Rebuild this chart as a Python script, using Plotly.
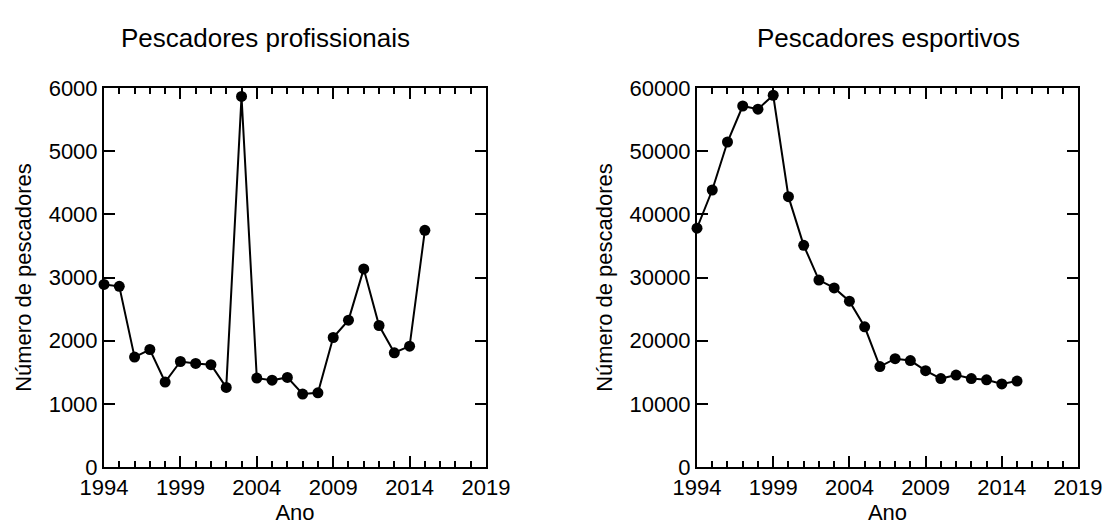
import plotly.graph_objects as go

anos = list(range(1994, 2016))
profissionais = [2890, 2860, 1740, 1860, 1345, 1670, 1640, 1620, 1260, 5866, 1407, 1375,
                 1418, 1155, 1175, 2050, 2325, 3136, 2240, 1808, 1913, 3747]
esportivos = [37800, 43850, 51450, 57150, 56650, 58850, 42800, 35100, 29600, 28350, 26250, 22200,
              15900, 17150, 16850, 15250, 14000, 14550, 14000, 13800, 13150, 13600]
titulos = ["Pescadores profissionais", "Pescadores esportivos"]
x_titulo = "Ano"
y_titulo = "Número de pescadores"

FONT = "Liberation Sans, Arial, sans-serif"
TICK = 22
AXT = 22
fig = go.Figure()

fig.add_trace(go.Scatter(x=anos, y=profissionais, mode="lines+markers",
                         line=dict(color="black", width=2),
                         marker=dict(color="black", size=11),
                         cliponaxis=False, xaxis="x", yaxis="y", showlegend=False))
fig.add_trace(go.Scatter(x=anos, y=esportivos, mode="lines+markers",
                         line=dict(color="black", width=2),
                         marker=dict(color="black", size=11),
                         cliponaxis=False, xaxis="x2", yaxis="y2", showlegend=False))

def xax(domain, anchor):
    return dict(domain=domain, anchor=anchor, range=[1994, 2019], dtick=5, tick0=1994,
                ticks="inside", ticklen=11, tickwidth=2, tickcolor="black",
                showline=True, linecolor="black", linewidth=2, mirror="ticks",
                showgrid=False, zeroline=False, automargin=False,
                minor=dict(ticks="inside", ticklen=6, tickwidth=2, dtick=1, tick0=1994, tickcolor="black", showgrid=False),
                tickfont=dict(size=TICK, color="black", family=FONT),
                title=dict(text=x_titulo, font=dict(size=AXT, color="black", family=FONT), standoff=5))

def yax(domain, anchor, rng, dt):
    return dict(domain=domain, anchor=anchor, range=rng, dtick=dt, tickformat="d",
                ticks="inside", ticklen=11, tickwidth=2, tickcolor="black",
                showline=True, linecolor="black", linewidth=2, mirror="ticks",
                showgrid=False, zeroline=False, automargin=False,
                tickfont=dict(size=TICK, color="black", family=FONT),
                title=dict(text=y_titulo, font=dict(size=AXT, color="black", family=FONT), standoff=11))

ydom = [61 / 528, 440 / 528]
fig.update_layout(
    width=1112, height=528, margin=dict(l=0, r=0, t=0, b=0),
    paper_bgcolor="white", plot_bgcolor="white",
    font=dict(family=FONT, color="black"),
    xaxis=xax([104 / 1112, 486 / 1112], "y"),
    yaxis=yax(ydom, "x", [0, 6000], 1000),
    xaxis2=xax([697 / 1112, 1078 / 1112], "y2"),
    yaxis2=yax(ydom, "x2", [0, 60000], 10000),
    annotations=[
        dict(text=titulos[0], x=265 / 1112, y=1 - 38 / 528, xref="paper", yref="paper",
             showarrow=False, font=dict(size=26, color="black", family=FONT), xanchor="center", yanchor="middle"),
        dict(text=titulos[1], x=888 / 1112, y=1 - 38 / 528, xref="paper", yref="paper",
             showarrow=False, font=dict(size=26, color="black", family=FONT), xanchor="center", yanchor="middle"),
    ],
)

fig.write_html("out.html")
